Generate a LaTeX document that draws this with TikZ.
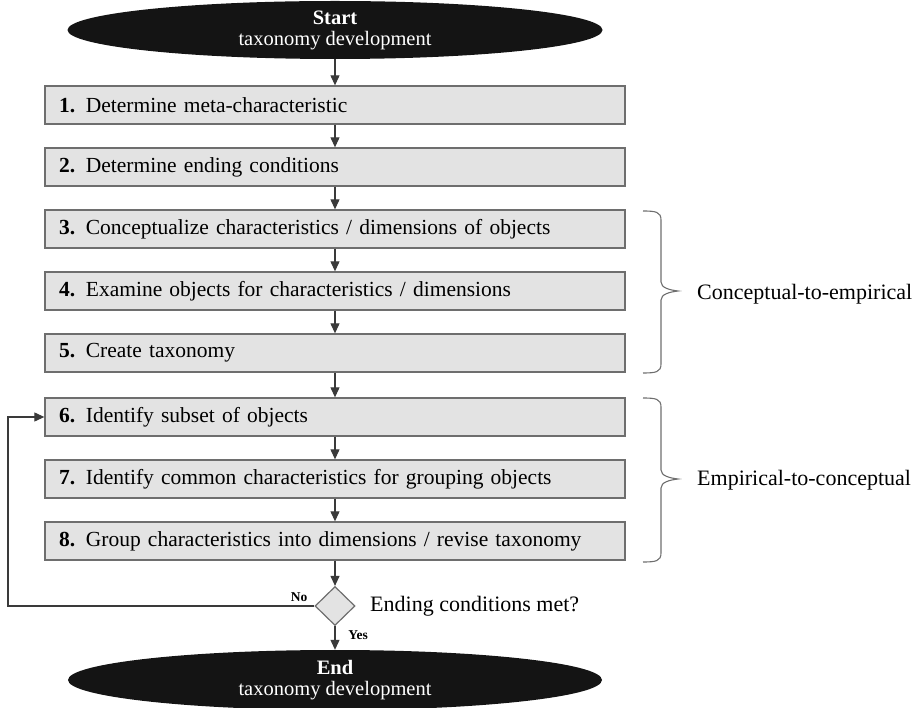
\documentclass[tikz,border=0pt]{standalone}
\usepackage{fontspec}
\setmainfont{Liberation Serif}
\usetikzlibrary{arrows.meta,shapes.geometric}
\definecolor{boxfill}{HTML}{E3E3E3}
\definecolor{boxline}{HTML}{6E6E6E}
\definecolor{lineclr}{HTML}{3A3A3A}
\tikzset{
  stepbox/.style={draw=boxline, line width=1.3pt, fill=boxfill, rectangle,
    minimum width=580pt, minimum height=38pt, text width=552pt, align=left,
    inner xsep=14pt, inner ysep=0pt, font=\fontsize{21.5}{24}\selectfont, anchor=center},
  terminal/.style={ellipse, fill=black!92, text=white, inner sep=0pt, align=center,
    font=\fontsize{20.5}{24}\selectfont},
  decide/.style={diamond, draw=boxline, line width=1.2pt, fill=boxfill,
    minimum width=40pt, minimum height=39pt, inner sep=0pt},
  arr/.style={-{Triangle[length=10pt,width=9pt]}, line width=1.1pt, draw=lineclr},
  bracepath/.style={line width=1.1pt, draw=boxline},
  sidetext/.style={anchor=west, font=\fontsize{22}{24}\selectfont, inner sep=0pt},
  smalllabel/.style={font=\bfseries\fontsize{13.5}{15}\selectfont, inner sep=0pt}
}
\begin{document}
\begin{tikzpicture}[x=1pt,y=-1pt]
\useasboundingbox (0,0) rectangle (919,708);
\begin{scope}
\clip (0,0) rectangle (919,708);
\node[terminal, minimum width=535pt, minimum height=58pt] (s) at (335,30)
  {\textbf{Start}\\[-3pt] taxonomy development};
\node[terminal, minimum width=534pt, minimum height=60pt] (e) at (335,680)
  {\textbf{End}\\[-3pt] taxonomy development};
\end{scope}

\node[stepbox] (b1) at (335,105) {\textbf{1.} Determine meta-characteristic};
\node[stepbox] (b2) at (335,167) {\textbf{2.} Determine ending conditions};
\node[stepbox] (b3) at (335,229) {\textbf{3.} Conceptualize characteristics / dimensions of objects};
\node[stepbox] (b4) at (335,291) {\textbf{4.} Examine objects for characteristics / dimensions};
\node[stepbox] (b5) at (335,353) {\textbf{5.} Create taxonomy};
\node[stepbox] (b6) at (335,417) {\textbf{6.} Identify subset of objects};
\node[stepbox] (b7) at (335,479) {\textbf{7.} Identify common characteristics for grouping objects};
\node[stepbox] (b8) at (335,541) {\textbf{8.} Group characteristics into dimensions / revise taxonomy};

\node[decide] (d) at (335,606) {};
\node[sidetext] (q) at (370,606) {Ending conditions met?};
\node[smalllabel] (no) at (299,597) {No};
\node[smalllabel] (yes) at (358,635) {Yes};

\coordinate (lp) at (8,606);

\draw[arr] (s.south) -- (b1.north);
\draw[arr] (b1) -- (b2);
\draw[arr] (b2) -- (b3);
\draw[arr] (b3) -- (b4);
\draw[arr] (b4) -- (b5);
\draw[arr] (b5) -- (b6);
\draw[arr] (b6) -- (b7);
\draw[arr] (b7) -- (b8);
\draw[arr] (b8) -- (d);
\draw[arr] (d.south) -- (e.north);
\draw[arr] (d.west) -- (lp) |- (b6.west);

% braces
\draw[bracepath] (643,211) .. controls (656,211) and (661,212) .. (661,220)
  -- (661,282) .. controls (661,288) and (670,290) .. (678,291)
  .. controls (670,292) and (661,294) .. (661,300)
  -- (661,364) .. controls (661,372) and (656,373) .. (643,373);
\node[sidetext] (c2e) at (697,294) {Conceptual-to-empirical};

\draw[bracepath] (643,398) .. controls (656,398) and (661,399) .. (661,407)
  -- (661,470) .. controls (661,476) and (670,478) .. (678,479)
  .. controls (670,480) and (661,482) .. (661,488)
  -- (661,553) .. controls (661,561) and (656,562) .. (643,562);
\node[sidetext] (e2c) at (697,480) {Empirical-to-conceptual};
\end{tikzpicture}
\end{document}
